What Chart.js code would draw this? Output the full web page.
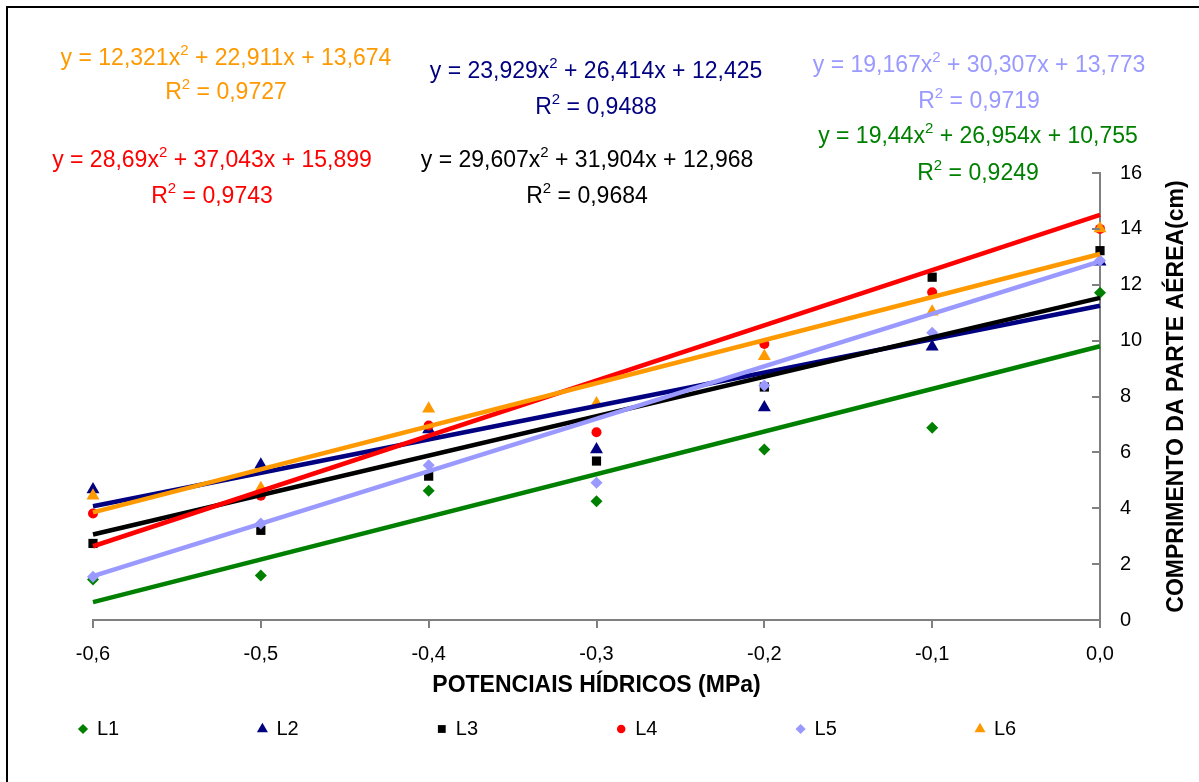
<!DOCTYPE html>
<html>
<head>
<meta charset="utf-8">
<title>Comprimento da parte aérea</title>
<script src="https://cdn.jsdelivr.net/npm/chart.js@4.4.0/dist/chart.umd.min.js"></script>
<style>
  html, body { margin: 0; padding: 0; background: #fff; }
  #wrap { width: 1199px; height: 782px; position: relative; overflow: hidden; }
</style>
</head>
<body>
<div id="wrap"><canvas id="chart" width="1199" height="782"></canvas></div>
<script>
// Potenciais hídricos (MPa)
const potenciais = [-0.6, -0.5, -0.4, -0.3, -0.2, -0.1, 0.0];
const xTicks = [-0.6, -0.5, -0.4, -0.3, -0.2, -0.1, 0.0];
const yTicks = [0, 2, 4, 6, 8, 10, 12, 14, 16];

const seriesNames = ['L1', 'L2', 'L3', 'L4', 'L5', 'L6'];

// Comprimento da parte aérea (cm) por linhagem
const l1 = [1.45, 1.59, 4.63, 4.25, 6.10, 6.88, 11.71];
const l2 = [4.67, 5.56, 6.82, 6.10, 7.61, 9.78, 12.82];
const l3 = [2.74, 3.21, 5.15, 5.69, 8.34, 12.27, 13.22];
const l4 = [3.81, 4.45, 6.96, 6.72, 9.88, 11.73, 14.00];
const l5 = [1.55, 3.45, 5.54, 4.91, 8.39, 10.28, 12.87];
const l6 = [4.45, 4.72, 7.56, 7.75, 9.44, 11.03, 14.01];

// Linhas de tendência: valor em -0,6 e em 0,0
const trendStart = [0.64, 4.07, 3.06, 2.64, 1.57, 3.85];
const trendEnd = [9.80, 11.25, 11.53, 14.50, 12.84, 13.10];

// Equações e R²
const eqA = ['19,44', '23,929', '29,607', '28,69', '19,167', '12,321'];
const eqB = ['26,954', '26,414', '31,904', '37,043', '30,307', '22,911'];
const eqC = ['10,755', '12,425', '12,968', '15,899', '13,773', '13,674'];
const eqR2 = ['0,9249', '0,9488', '0,9684', '0,9743', '0,9719', '0,9727'];

const FONT = "'Liberation Sans', Arial, sans-serif";
const colors = ['#008000', '#000080', '#000000', '#FF0000', '#9999FF', '#FF9900'];
const styles = ['rectRot', 'triangle', 'rect', 'circle', 'rectRot', 'triangle'];
const radii = [6, 7.5, 6.5, 5, 6, 7.5];

// label centres: [x, y equation, y R²]
const eqPos = [[978, 135, 172], [596, 70, 106], [587, 159, 195], [212, 159, 195], [979, 64, 100], [226, 57, 91]];

const pointSets = [l1, l2, l3, l4, l5, l6];
const datasets = [];

pointSets.forEach((vals, i) => {
    datasets.push({
        label: seriesNames[i],
        type: 'scatter',
        data: potenciais.map((x, j) => ({ x: x, y: vals[j] })),
        backgroundColor: colors[i],
        borderColor: colors[i],
        borderWidth: 0,
        pointStyle: styles[i],
        pointRadius: radii[i],
        pointHoverRadius: radii[i],
        clip: false,
        order: 20 - i
    });
});

pointSets.forEach((vals, i) => {
    datasets.push({
        label: seriesNames[i] + ' tendência',
        type: 'line',
        data: [
            { x: xTicks[0], y: trendStart[i] },
            { x: xTicks[xTicks.length - 1], y: trendEnd[i] }
        ],
        borderColor: colors[i],
        borderWidth: 4.5,
        pointRadius: 0,
        fill: false,
        clip: false,
        order: 10 - i
    });
});

function fmt(v) {
    return Number(v).toFixed(1).replace('.', ',').replace('-0,0', '0,0');
}

// Text with a superscript "2" in the middle
function drawSupText(ctx, cx, cy, before, after, color) {
    const mainFont = '23px ' + FONT;
    const supFont = '15px ' + FONT;
    ctx.font = mainFont;
    const w1 = ctx.measureText(before).width;
    const w3 = ctx.measureText(after).width;
    ctx.font = supFont;
    const w2 = ctx.measureText('2').width;
    const total = w1 + w2 + w3;
    let x = cx - total / 2;
    const base = cy + 8;
    ctx.fillStyle = color;
    ctx.textAlign = 'left';
    ctx.textBaseline = 'alphabetic';
    ctx.font = mainFont;
    ctx.fillText(before, x, base);
    x += w1;
    ctx.font = supFont;
    ctx.fillText('2', x, base - 10);
    x += w2;
    ctx.font = mainFont;
    ctx.fillText(after, x, base);
}

const decorPlugin = {
    id: 'decor',
    beforeDraw(chart) {
        const ctx = chart.ctx;
        ctx.save();
        ctx.fillStyle = '#fff';
        ctx.fillRect(0, 0, chart.width, chart.height);
        ctx.strokeStyle = '#000';
        ctx.lineWidth = 2;
        ctx.strokeRect(7, 7, chart.width + 20, chart.height + 20);
        ctx.restore();
    },
    afterDraw(chart) {
        const ctx = chart.ctx;
        const area = chart.chartArea;
        const yScale = chart.scales.y;
        ctx.save();

        // inward tick marks on the right axis
        ctx.strokeStyle = '#808080';
        ctx.lineWidth = 2;
        yTicks.forEach(v => {
            const py = Math.round(yScale.getPixelForValue(v));
            ctx.beginPath();
            ctx.moveTo(area.right - 8, py);
            ctx.lineTo(area.right, py);
            ctx.stroke();
        });

        // axis titles
        ctx.fillStyle = '#000';
        ctx.font = 'bold 23px ' + FONT;
        ctx.textAlign = 'center';
        ctx.textBaseline = 'middle';
        ctx.fillText('POTENCIAIS HÍDRICOS (MPa)', (area.left + area.right) / 2, 686);
        ctx.save();
        ctx.translate(1177, (area.top + area.bottom) / 2);
        ctx.rotate(-Math.PI / 2);
        ctx.fillText('COMPRIMENTO DA PARTE AÉREA(cm)', 0, 0);
        ctx.restore();

        // equations
        eqPos.forEach((p, i) => {
            drawSupText(ctx, p[0], p[1], 'y = ' + eqA[i] + 'x', ' + ' + eqB[i] + 'x + ' + eqC[i], colors[i]);
            drawSupText(ctx, p[0], p[2], 'R', ' = ' + eqR2[i], colors[i]);
        });

        // legend
        const legendY = 729;
        seriesNames.forEach((name, i) => {
            const mx = 83 + i * 179.4;
            ctx.fillStyle = colors[i];
            Chart.helpers.drawPoint(ctx, {
                pointStyle: styles[i],
                radius: radii[i] * 0.85,
                rotation: 0,
                borderWidth: 0
            }, mx, legendY);
            ctx.fillStyle = '#000';
            ctx.font = '20px ' + FONT;
            ctx.textAlign = 'left';
            ctx.textBaseline = 'middle';
            ctx.fillText(name, mx + 14, legendY);
        });

        ctx.restore();
    }
};

const chart = new Chart(document.getElementById('chart'), {
    type: 'scatter',
    data: { datasets: datasets },
    options: {
        responsive: false,
        animation: false,
        devicePixelRatio: 1,
        layout: { padding: { left: 93, top: 173, right: 0, bottom: 0 } },
        plugins: {
            legend: { display: false },
            tooltip: { enabled: false }
        },
        scales: {
            x: {
                type: 'linear',
                position: 'bottom',
                min: -0.6,
                max: 0,
                afterBuildTicks: s => { s.ticks = xTicks.map(v => ({ value: v })); },
                afterFit: s => { s.height = 162; },
                grid: {
                    display: true,
                    drawOnChartArea: false,
                    drawTicks: true,
                    tickLength: 8,
                    color: '#808080',
                    lineWidth: 2
                },
                border: { display: true, color: '#808080', width: 2 },
                ticks: {
                    color: '#000',
                    font: { family: FONT, size: 20 },
                    padding: 14,
                    maxRotation: 0,
                    autoSkip: false,
                    callback: v => fmt(v)
                }
            },
            y: {
                position: 'right',
                min: 0,
                max: 16,
                afterBuildTicks: s => { s.ticks = yTicks.map(v => ({ value: v })); },
                afterFit: s => { s.width = 99; },
                grid: { display: false, drawTicks: false },
                border: { display: true, color: '#808080', width: 2 },
                ticks: {
                    color: '#000',
                    font: { family: FONT, size: 20 },
                    padding: 20
                }
            }
        }
    },
    plugins: [decorPlugin]
});
</script>
</body>
</html>
